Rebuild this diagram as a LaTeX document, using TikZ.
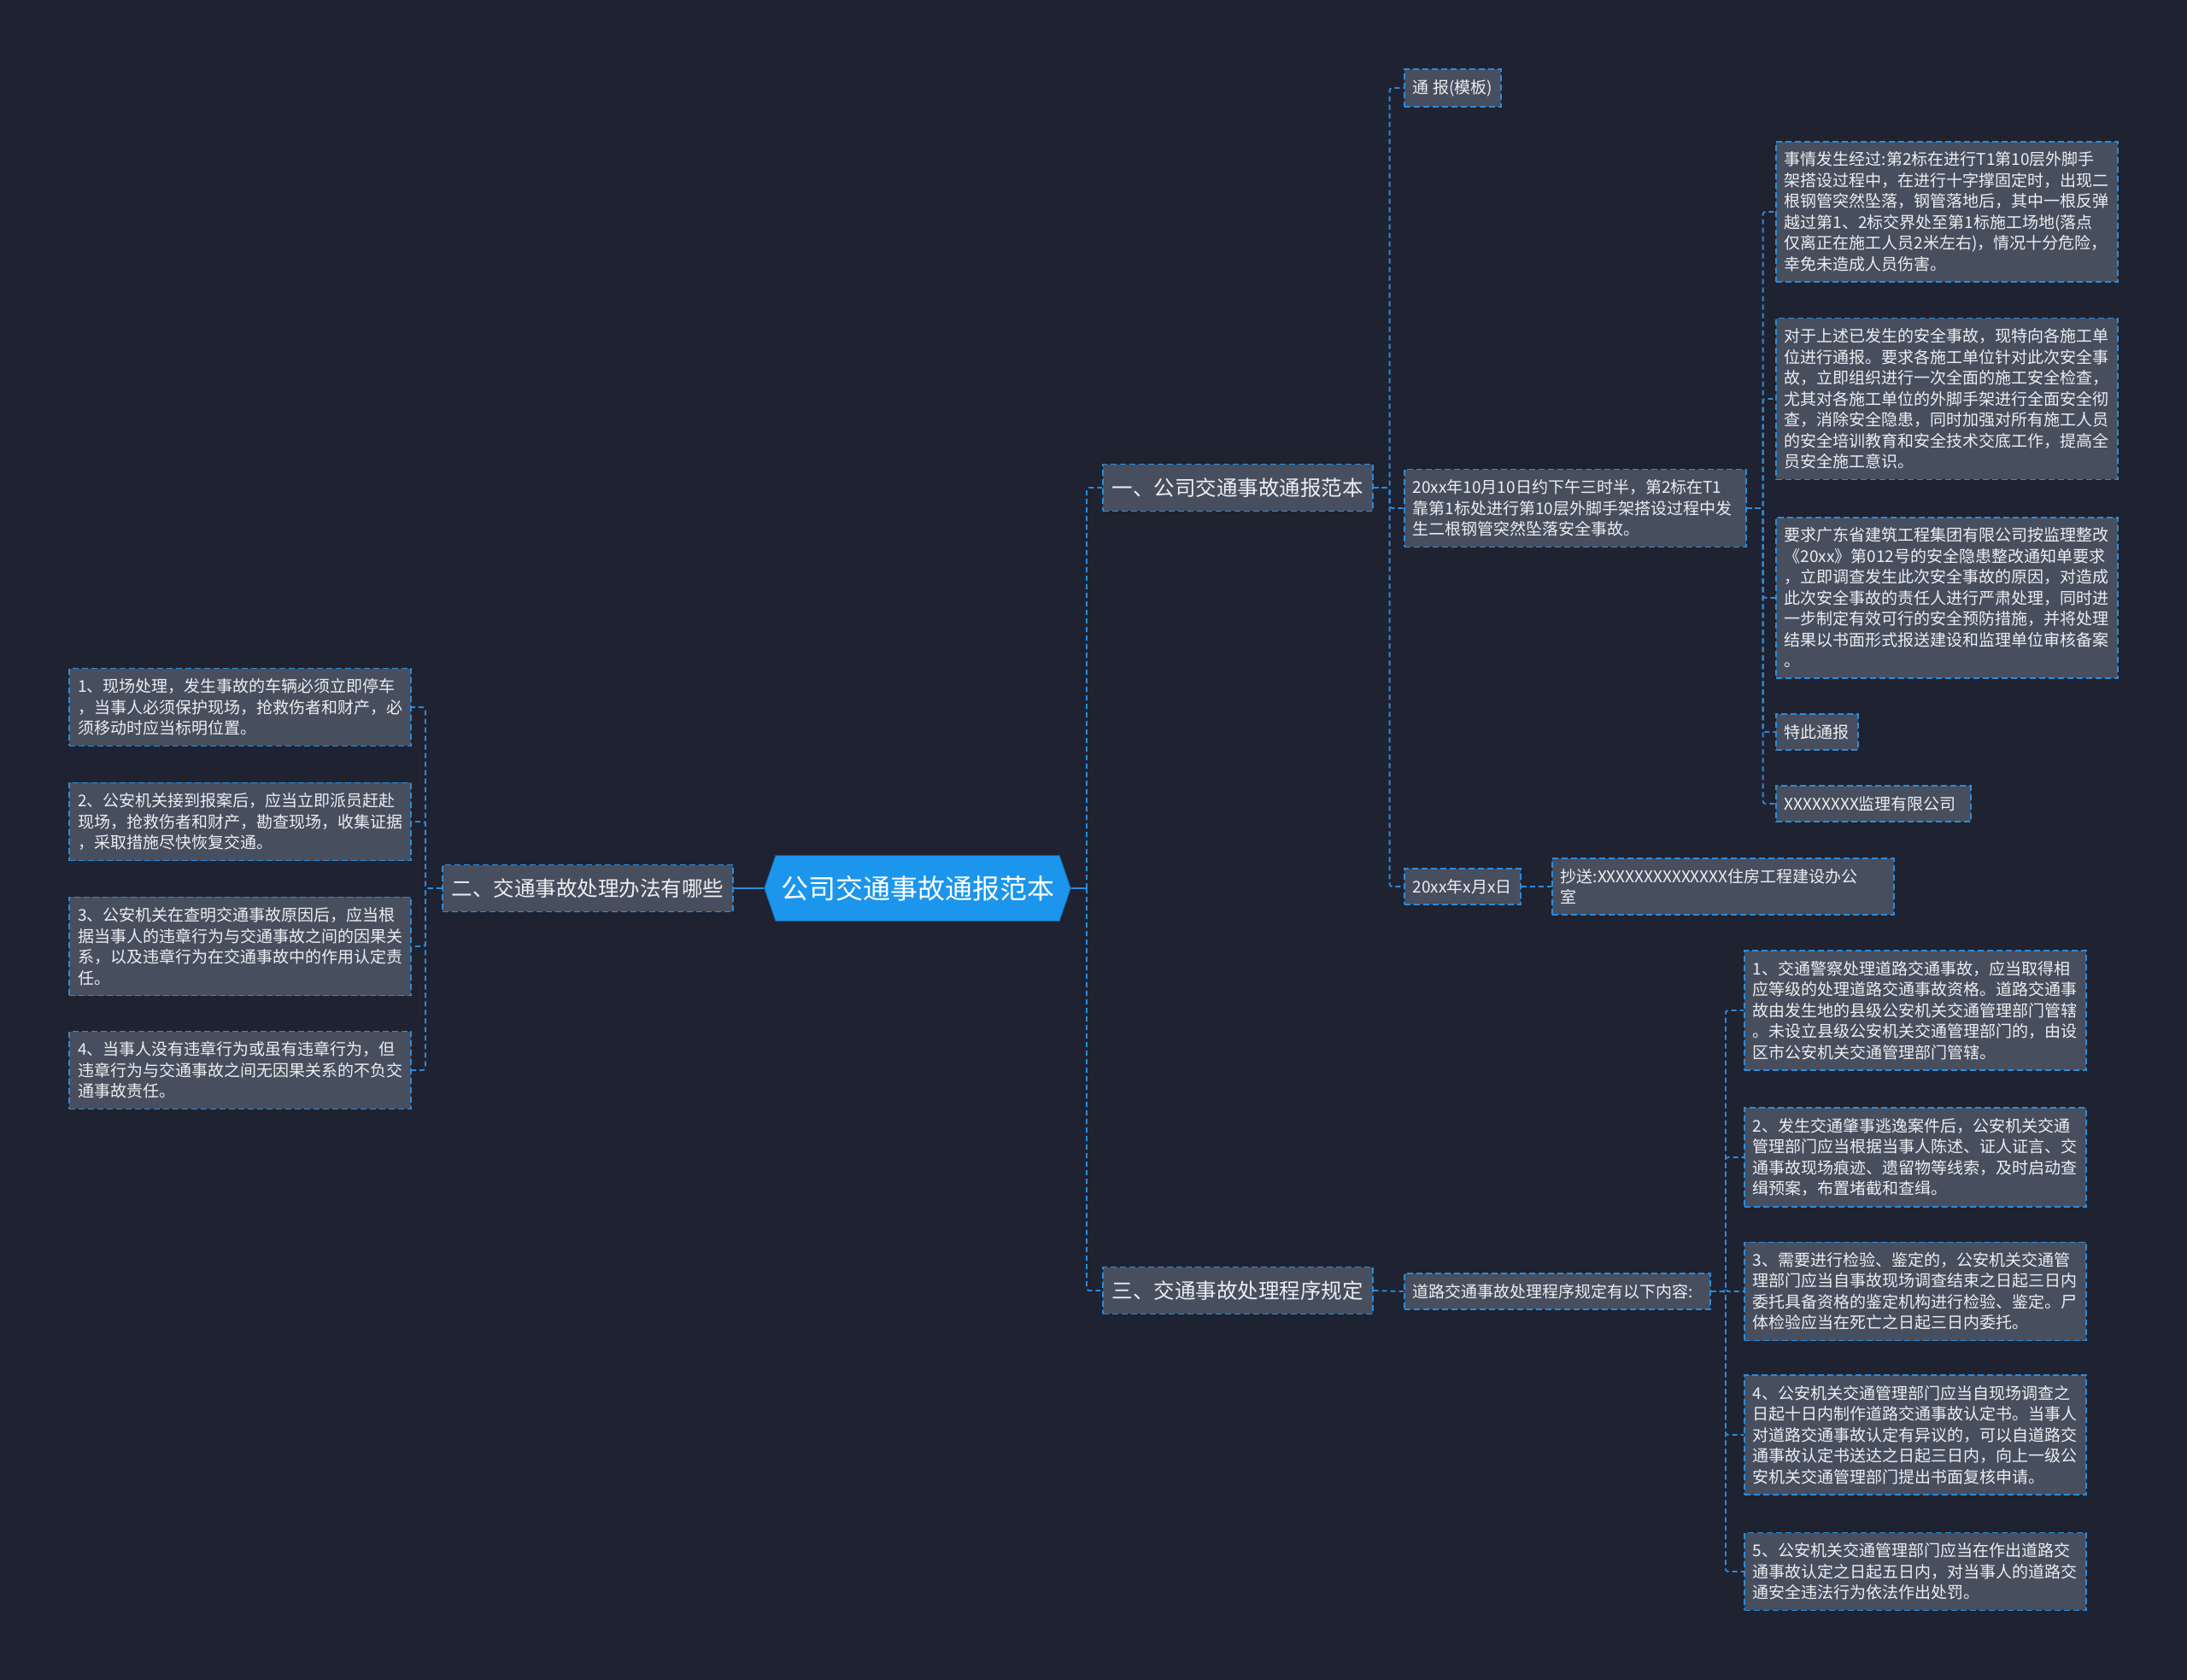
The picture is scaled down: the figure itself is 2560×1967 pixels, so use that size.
\documentclass[tikz,border=0pt]{standalone}
\usepackage{fontspec}
\setmainfont{Noto Sans CJK SC}
\usetikzlibrary{shapes.symbols}

\definecolor{bgcol}{HTML}{1F2230}
\definecolor{boxcol}{HTML}{474E5D}
\definecolor{linecol}{HTML}{2A8CDC}
\definecolor{rootcol}{HTML}{1C95EC}
\definecolor{txtcol}{HTML}{ECEEF2}

\begin{document}
\begin{tikzpicture}[x=1pt, y=-1pt,
  box/.style={draw=linecol, fill=boxcol, line width=1.6pt, dash pattern=on 7pt off 4pt,
    text=txtcol, inner xsep=10pt, inner ysep=12pt, align=left,
    font=\fontsize{19}{24.5}\selectfont},
  wide/.style={box, text width=380pt},
  topic/.style={box, inner xsep=11pt, inner ysep=16pt, font=\fontsize{24.5}{30}\selectfont},
  root/.style={shape=signal, signal to=west and east, signal pointer angle=142,
    fill=rootcol, draw=rootcol!60!black, line width=0.8pt, minimum height=77pt,
    minimum width=359pt, inner xsep=4pt, inner ysep=0pt, text=white,
    font=\fontsize{32}{38}\selectfont},
  link/.style={draw=linecol, line width=1.8pt, dash pattern=on 6pt off 4pt, rounded corners=3pt},
  stub/.style={draw=linecol, line width=2.4pt}]
  \fill[bgcol] (0,0) rectangle (2560,1967);

  \node[root] (root) at (1074,1040) {公司交通事故通报范本};
  \node[topic, anchor=west] (one) at (1290,571) {一、公司交通事故通报范本};
  \node[topic, anchor=east] (two) at (859,1040) {二、交通事故处理办法有哪些};
  \node[topic, anchor=west] (three) at (1290,1511) {三、交通事故处理程序规定};

  % 一
  \node[box, anchor=west] (tb) at (1643,103) {通 报(模板)};
  \node[wide, anchor=west] (when) at (1643,595) {20xx年10月10日约下午三时半，第2标在T1\\靠第1标处进行第10层外脚手架搭设过程中发\\生二根钢管突然坠落安全事故。};
  \node[box, anchor=west] (date) at (1643,1038) {20xx年x月x日};
  \node[wide, anchor=west] (cc) at (1816,1038) {抄送:XXXXXXXXXXXXXX住房工程建设办公\\室};

  \node[wide, anchor=west] (r1) at (2078,248) {事情发生经过:第2标在进行T1第10层外脚手\\架搭设过程中，在进行十字撑固定时，出现二\\根钢管突然坠落，钢管落地后，其中一根反弹\\越过第1、2标交界处至第1标施工场地(落点\\仅离正在施工人员2米左右)，情况十分危险，\\幸免未造成人员伤害。};
  \node[wide, anchor=west] (r2) at (2078,467) {对于上述已发生的安全事故，现特向各施工单\\位进行通报。要求各施工单位针对此次安全事\\故，立即组织进行一次全面的施工安全检查，\\尤其对各施工单位的外脚手架进行全面安全彻\\查，消除安全隐患，同时加强对所有施工人员\\的安全培训教育和安全技术交底工作，提高全\\员安全施工意识。};
  \node[wide, anchor=west] (r3) at (2078,700) {要求广东省建筑工程集团有限公司按监理整改\\《20xx》第012号的安全隐患整改通知单要求\\，立即调查发生此次安全事故的原因，对造成\\此次安全事故的责任人进行严肃处理，同时进\\一步制定有效可行的安全预防措施，并将处理\\结果以书面形式报送建设和监理单位审核备案\\。};
  \node[box, anchor=west] (r4) at (2078,857) {特此通报};
  \node[box, anchor=west] (r5) at (2078,941) {XXXXXXXX监理有限公司\hspace*{7pt}};

  % 二
  \node[wide, anchor=east] (l1) at (482,828) {1、现场处理，发生事故的车辆必须立即停车\\，当事人必须保护现场，抢救伤者和财产，必\\须移动时应当标明位置。};
  \node[wide, anchor=east] (l2) at (482,962) {2、公安机关接到报案后，应当立即派员赶赴\\现场，抢救伤者和财产，勘查现场，收集证据\\，采取措施尽快恢复交通。};
  \node[wide, anchor=east] (l3) at (482,1108) {3、公安机关在查明交通事故原因后，应当根\\据当事人的违章行为与交通事故之间的因果关\\系，以及违章行为在交通事故中的作用认定责\\任。};
  \node[wide, anchor=east] (l4) at (482,1253) {4、当事人没有违章行为或虽有违章行为，但\\违章行为与交通事故之间无因果关系的不负交\\通事故责任。};

  % 三
  \node[box, anchor=west] (rule) at (1643,1512) {道路交通事故处理程序规定有以下内容:\hspace*{10pt}};
  \node[wide, anchor=west] (s1) at (2041,1183) {1、交通警察处理道路交通事故，应当取得相\\应等级的处理道路交通事故资格。道路交通事\\故由发生地的县级公安机关交通管理部门管辖\\。未设立县级公安机关交通管理部门的，由设\\区市公安机关交通管理部门管辖。};
  \node[wide, anchor=west] (s2) at (2041,1355) {2、发生交通肇事逃逸案件后，公安机关交通\\管理部门应当根据当事人陈述、证人证言、交\\通事故现场痕迹、遗留物等线索，及时启动查\\缉预案，布置堵截和查缉。};
  \node[wide, anchor=west] (s3) at (2041,1512) {3、需要进行检验、鉴定的，公安机关交通管\\理部门应当自事故现场调查结束之日起三日内\\委托具备资格的鉴定机构进行检验、鉴定。尸\\体检验应当在死亡之日起三日内委托。};
  \node[wide, anchor=west] (s4) at (2041,1680) {4、公安机关交通管理部门应当自现场调查之\\日起十日内制作道路交通事故认定书。当事人\\对道路交通事故认定有异议的，可以自道路交\\通事故认定书送达之日起三日内，向上一级公\\安机关交通管理部门提出书面复核申请。};
  \node[wide, anchor=west] (s5) at (2041,1840) {5、公安机关交通管理部门应当在作出道路交\\通事故认定之日起五日内，对当事人的道路交\\通安全违法行为依法作出处罚。};

  % connectors
  \draw[stub] (root.west) -- (two.east);
  \draw[stub] (root.east) -- ++(18,0) coordinate (rj);
  \draw[link] (rj) |- (one.west);
  \draw[link] (rj) |- (three.west);
  \foreach \c in {tb,when,date}
    \draw[link] (one.east) -- ++(19,0) |- (\c.west);
  \draw[link] (date.east) -- (cc.west);
  \foreach \c in {r1,r2,r3,r4,r5}
    \draw[link] (when.east) -- ++(19,0) |- (\c.west);
  \foreach \c in {l1,l2,l3,l4}
    \draw[link] (two.west) -- ++(-19,0) |- (\c.east);
  \draw[link] (three.east) -- (rule.west);
  \foreach \c in {s1,s2,s3,s4,s5}
    \draw[link] (rule.east) -- ++(17,0) |- (\c.west);
\end{tikzpicture}
\end{document}
